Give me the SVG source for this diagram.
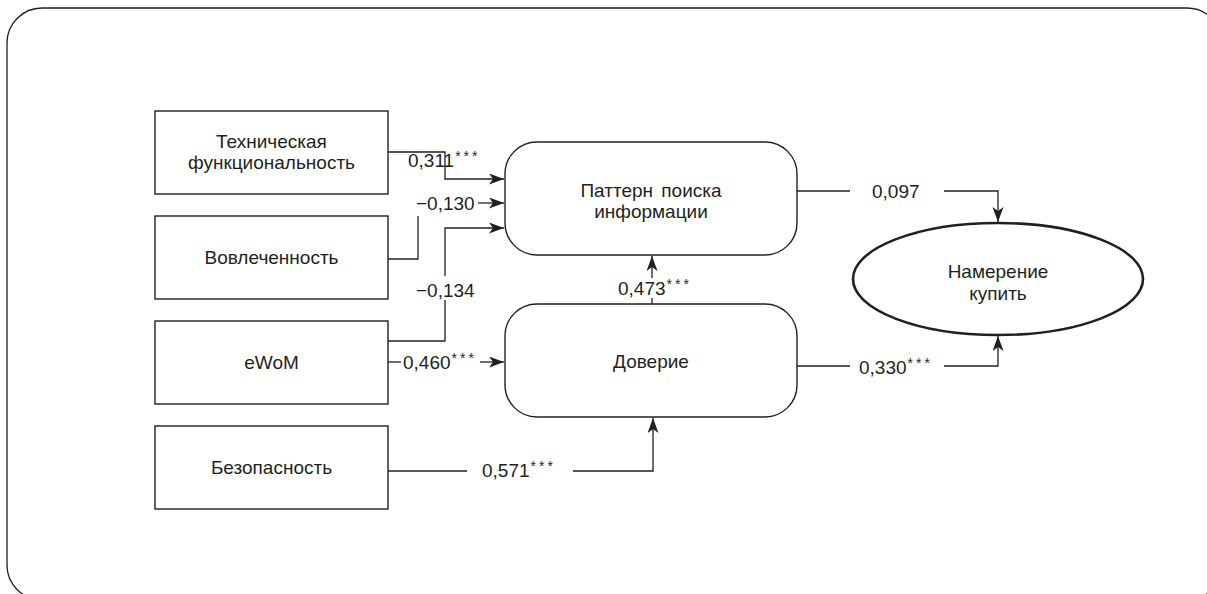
<svg xmlns="http://www.w3.org/2000/svg" width="1207" height="594" viewBox="0 0 1207 594">
<style>
text{font-family:"Liberation Sans",Arial,sans-serif;font-size:19px;fill:#231f20}
.n{text-anchor:middle}
.box{fill:#fff;stroke:#231f20;stroke-width:1.4}
.ln{fill:none;stroke:#231f20;stroke-width:1.3}
.st{font-size:14px;letter-spacing:3px}
</style>
<defs>
<marker id="ah" markerUnits="userSpaceOnUse" markerWidth="16" markerHeight="12" refX="15" refY="5.5" orient="auto">
<path d="M0,0 L15,5.5 L0,11 L4,5.5 Z" fill="#231f20"/>
</marker>
</defs>
<rect x="7" y="8" width="1215" height="592" rx="35" fill="none" stroke="#231f20" stroke-width="1.3"/>
<g id="n-tech"><rect class="box" x="155" y="111" width="233" height="83"/><text class="n" x="271.5" y="148">Техническая</text><text class="n" x="271.5" y="169">функциональность</text></g>
<g id="n-vovl"><rect class="box" x="155" y="216" width="233" height="83"/><text class="n" x="271.5" y="264">Вовлеченность</text></g>
<g id="n-ewom"><rect class="box" x="155" y="321" width="233" height="83"/><text class="n" x="271.5" y="369">eWoM</text></g>
<g id="n-bez"><rect class="box" x="155" y="426" width="233" height="83"/><text class="n" x="271.5" y="474">Безопасность</text></g>
<g id="n-pattern"><rect class="box" x="505" y="142" width="292" height="113" rx="32"/><text class="n" x="651" y="197" word-spacing="3">Паттерн поиска</text><text class="n" x="651" y="218">информации</text></g>
<g id="n-dov"><rect class="box" x="505" y="304" width="292" height="113" rx="32"/><text class="n" x="651" y="368">Доверие</text></g>
<g id="n-nam"><ellipse cx="998" cy="279" rx="145" ry="56" fill="#fff" stroke="#231f20" stroke-width="2.6"/><text class="n" x="998" y="278">Намерение</text><text class="n" x="998" y="300">купить</text></g>
<g id="connectors">
<path class="ln" d="M388,152 H445 V179 H504" marker-end="url(#ah)"/>
<path class="ln" d="M388,259 H418 V216"/>
<path class="ln" d="M478,203 H504" marker-end="url(#ah)"/>
<path class="ln" d="M388,341 H445 V300"/>
<path class="ln" d="M445,276 V228 H504" marker-end="url(#ah)"/>
<path class="ln" d="M388,362 H401"/>
<path class="ln" d="M480,362 H504" marker-end="url(#ah)"/>
<path class="ln" d="M388,471 H467"/>
<path class="ln" d="M573,471 H653 V418" marker-end="url(#ah)"/>
<path class="ln" d="M652,304 V298"/>
<path class="ln" d="M652,278 V256" marker-end="url(#ah)"/>
<path class="ln" d="M797,191 H850"/>
<path class="ln" d="M944,191 H998 V222" marker-end="url(#ah)"/>
<path class="ln" d="M797,366 H850"/>
<path class="ln" d="M944,366 H998 V336" marker-end="url(#ah)"/>
<text x="408" y="167">0,311<tspan class="st" dx="1" dy="-6">***</tspan></text>
<text x="416" y="210">−0,130</text>
<text x="416" y="297">−0,134</text>
<text x="403" y="369">0,460<tspan class="st" dx="1" dy="-6">***</tspan></text>
<text x="482" y="477">0,571<tspan class="st" dx="1" dy="-6">***</tspan></text>
<text x="618" y="295">0,473<tspan class="st" dx="1" dy="-6">***</tspan></text>
<text x="872" y="198">0,097</text>
<text x="859" y="374">0,330<tspan class="st" dx="1" dy="-6">***</tspan></text>
</g>
</svg>
